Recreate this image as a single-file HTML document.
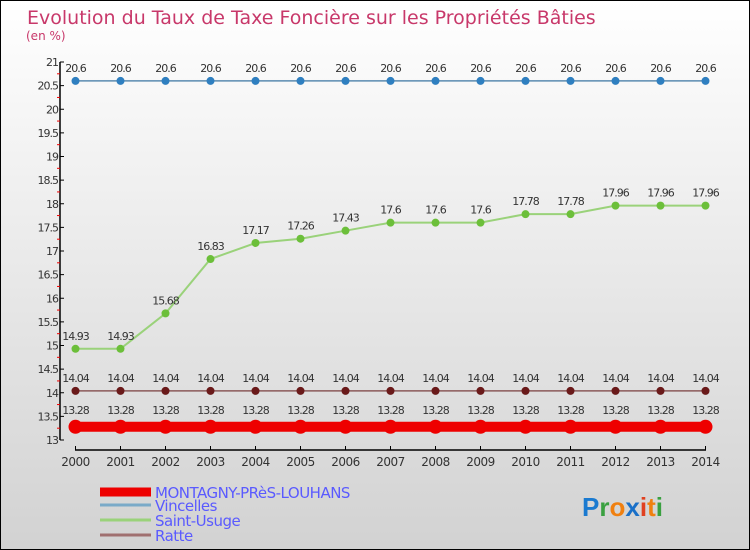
<!DOCTYPE html>
<html><head><meta charset="utf-8"><style>
html,body{margin:0;padding:0}
body{width:750px;height:550px;overflow:hidden;font-family:"DejaVu Sans","Liberation Sans",sans-serif}
#c{position:absolute;left:0;top:0;width:748px;height:548px;border:1px solid #000;background:linear-gradient(#fff,#d2d2d2)}
</style></head><body>
<div id="c"></div>
<svg id="s" width="750" height="550" style="position:absolute;left:0;top:0"></svg>
<script>
const years=[2000,2001,2002,2003,2004,2005,2006,2007,2008,2009,2010,2011,2012,2013,2014];
const vincelles=[20.6,20.6,20.6,20.6,20.6,20.6,20.6,20.6,20.6,20.6,20.6,20.6,20.6,20.6,20.6];
const saintUsuge=[14.93,14.93,15.68,16.83,17.17,17.26,17.43,17.6,17.6,17.6,17.78,17.78,17.96,17.96,17.96];
const ratte=[14.04,14.04,14.04,14.04,14.04,14.04,14.04,14.04,14.04,14.04,14.04,14.04,14.04,14.04,14.04];
const montagny=[13.28,13.28,13.28,13.28,13.28,13.28,13.28,13.28,13.28,13.28,13.28,13.28,13.28,13.28,13.28];
const yTicks=[13,13.5,14,14.5,15,15.5,16,16.5,17,17.5,18,18.5,19,19.5,20,20.5,21];
const NS="http://www.w3.org/2000/svg";
const s=document.getElementById('s');
function X(i){return 75.5+i*45;}
function Y(v){return 440-(v-13)*47.25;}
function el(t,a,txt){const e=document.createElementNS(NS,t);for(const k in a)e.setAttribute(k,a[k]);if(txt!==undefined)e.textContent=txt;s.appendChild(e);return e;}
let t=el('text',{x:27,y:24,'font-size':19,fill:'#c8386a'},'Evolution du Taux de Taxe Foncière sur les Propriétés Bâties');

t=el('text',{x:26,y:40,'font-size':12,fill:'#c8386a'},'(en %)');

let a=el('line',{x1:60,y1:62,x2:60,y2:440,stroke:'#000','stroke-width':1.5});

yTicks.forEach((v,i)=>{
 const tk=el('line',{x1:60,x2:64,y1:Y(v),y2:Y(v),stroke:'#000'});
 
 if(i<yTicks.length-1){const m=el('line',{x1:57,x2:60,y1:Y(v+0.25),y2:Y(v+0.25),stroke:'#e00'});}
 const l=el('text',{x:58,y:Y(v)+4,'font-size':11,fill:'#333','text-anchor':'end','letter-spacing':'-1'},String(v));
 
});
a=el('line',{x1:75,y1:450,x2:706,y2:450,stroke:'#000','stroke-width':1.5});

years.forEach((y,i)=>{
 const tk=el('line',{x1:X(i),x2:X(i),y1:446,y2:450,stroke:'#000'});
 
 const l=el('text',{x:X(i),y:466,'font-size':12,fill:'#333','text-anchor':'middle','letter-spacing':'-0.5'},String(y));
 
});
function series(name,data,color,w,r,pc){
 const p=el('polyline',{points:data.map((v,i)=>X(i)+','+Y(v)).join(' '),fill:'none',stroke:color,'stroke-width':w});
 
 data.forEach((v,i)=>{
  const c=el('circle',{cx:X(i),cy:Y(v),r:r,fill:pc});
  
  const l=el('text',{x:X(i),y:Y(v)-9-(r>5?4:0),'font-size':11,fill:'#333','text-anchor':'middle','letter-spacing':'-1'},String(v));
  
 });
}
series('vincelles',vincelles,'#5a8ab0',1.5,4,'#2f7fc0');
series('saint-usuge',saintUsuge,'#9ad27a',2,4,'#6cbf3a');
series('ratte',ratte,'#8b5a5a',1.5,4,'#6a1a1a');
series('montagny',montagny,'#e00',10,7,'#e00');
const leg=[['MONTAGNY-PRèS-LOUHANS','#e00',9,495],['Vincelles','#7aaac8',3,508],['Saint-Usuge','#9ad27a',3,523],['Ratte','#a07070',3,538]];
leg.forEach(d=>{
 const l=el('line',{x1:100,x2:151,y1:d[3]-3,y2:d[3]-3,stroke:d[1],'stroke-width':d[2]});
 
 const tx=el('text',{x:155,y:d[3]+3,'font-size':15,fill:'#5a5aff','letter-spacing':'-0.5'},d[0]);
 
});
const logo=el('text',{x:582,y:516,'font-size':26,'font-weight':'bold','font-family':'Liberation Sans, sans-serif'},'');

[['P','#1a7ad0'],['r','#3aa040'],['o','#f08010'],['x','#1a70c8'],['i','#e04020'],['t','#f08010'],['i','#3aa040']].forEach(c=>{const sp=document.createElementNS(NS,'tspan');sp.setAttribute('fill',c[1]);sp.textContent=c[0];logo.appendChild(sp);});
</script>
</body></html>
